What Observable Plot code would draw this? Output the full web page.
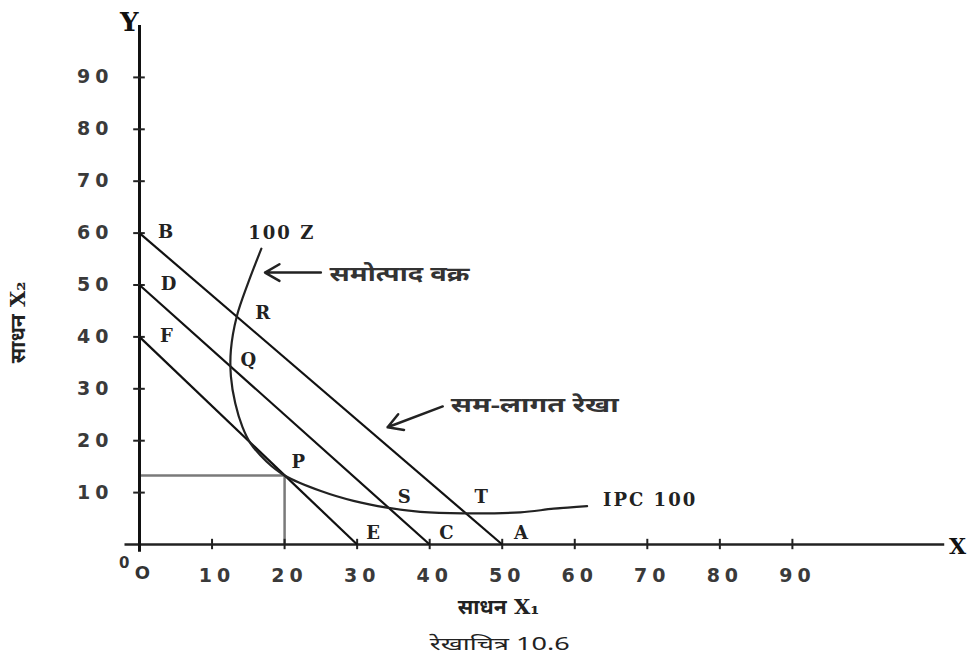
<!DOCTYPE html>
<html>
<head>
<meta charset="utf-8">
<script src="https://cdn.jsdelivr.net/npm/d3@7"></script>
<script src="https://cdn.jsdelivr.net/npm/@observablehq/plot@0.6"></script>
<style>
  html, body { margin: 0; padding: 0; background: #fff; }
  g[font-family="DejaVu Sans"] text { letter-spacing: 5px; }
  g[font-family="DejaVu Serif"] text { letter-spacing: 2px; }
</style>
</head>
<body>
<div id="chart"></div>
<script>
// ---- data ----
const xTicks = [10, 20, 30, 40, 50, 60, 70, 80, 90];
const yTicks = [10, 20, 30, 40, 50, 60, 70, 80, 90];

// iso-cost lines: intercepts on X2 axis and X1 axis
const costLineNames = ["BA", "DC", "FE"];
const costYIntercepts = [60, 50, 40];
const costXIntercepts = [50, 40, 30];

// isoquant (100 Z) continuing as IPC 100
const curveX = [16.8, 15.0, 13.4, 12.6, 12.6, 13.2, 14.2, 15.3, 17.5, 20.0, 25.0, 29.5, 34.1, 38.7, 44.6, 52.5, 57.1, 61.7];
const curveY = [57.0, 50.5, 43.9, 37.5, 32.4, 27.2, 22.6, 19.5, 16.0, 13.3, 10.3, 8.4, 7.1, 6.3, 6.0, 6.2, 6.9, 7.4];

// point P projections
const pX = 20;
const pY = 13.3;

// point labels
const pointNames = ["B", "D", "F", "R", "Q", "P", "S", "T", "E", "C", "A"];
const pointLabelX = [3.6, 4.0, 3.7, 17.0, 15.0, 21.9, 36.5, 47.1, 32.2, 42.3, 52.6];
const pointLabelY = [60.1, 50.1, 40.1, 44.5, 35.5, 15.8, 9.1, 9.1, 2.1, 2.1, 2.1];

// text
const isoquantLabel = "100 Z";
const ipcLabel = "IPC 100";
const isoquantNote = "समोत्पाद वक्र";
const isocostNote = "सम-लागत रेखा";
const xTitle = "साधन X₁";
const yTitle = "साधन X₂";
const caption = "रेखाचित्र 10.6";

// ---- build ----
const costLines = costLineNames.map((n, i) => ({name: n, y0: costYIntercepts[i], x0: costXIntercepts[i]}));
const curve = curveX.map((x, i) => ({x, y: curveY[i]}));
const points = pointNames.map((n, i) => ({n, x: pointLabelX[i], y: pointLabelY[i]}));

const serif = "'DejaVu Serif', serif";
const labelSerif = "DejaVu Serif";
const mixed = "'DejaVu Serif', 'Noto Sans', 'Noto Sans Devanagari', sans-serif";
const deva = "'Noto Sans', 'Noto Sans Devanagari', sans-serif";
const tickFont = "DejaVu Sans";
const originFont = "Verdana, 'DejaVu Sans', sans-serif";

const chart = Plot.plot({
  width: 972,
  height: 661,
  marginLeft: 139,
  marginRight: 6,
  marginTop: 25,
  marginBottom: 117,
  x: {domain: [0, 114], axis: null},
  y: {domain: [0, 100], axis: null},
  style: {background: "#fff", overflow: "visible"},
  marks: [
    // P projections (grey)
    Plot.ruleY([pY], {x1: 0, x2: pX, stroke: "#7a7a7a", strokeWidth: 2.5}),
    Plot.ruleX([pX], {y1: 0, y2: pY, stroke: "#7a7a7a", strokeWidth: 2.5}),
    // axes
    Plot.ruleY([0], {x1: -2, x2: 111.0, stroke: "#222", strokeWidth: 2.5}),
    Plot.ruleX([0], {y1: -1.5, y2: 100, stroke: "#111", strokeWidth: 3}),
    Plot.ruleX(xTicks, {x: d => d, y1: -1, y2: 1, stroke: "#222", strokeWidth: 2}),
    Plot.ruleY(yTicks, {y: d => d, x1: -0.8, x2: 0.8, stroke: "#222", strokeWidth: 2}),
    // tick labels
    Plot.text(xTicks, {x: d => d, y: -6.0, text: d => String(d), fontFamily: tickFont, fontSize: 19, fontWeight: "bold", fill: "#3a3a3a", dx: 5}),
    Plot.text(yTicks, {x: -3.6, y: d => d, text: d => String(d), textAnchor: "end", fontFamily: tickFont, fontSize: 19, fontWeight: "bold", fill: "#3a3a3a"}),
    Plot.text(["0"], {x: -2.1, y: -3.6, text: d => d, fontFamily: originFont, fontSize: 15, fontWeight: "bold", fill: "#333"}),
    Plot.text(["O"], {x: 0.4, y: -5.5, text: d => d, fontFamily: originFont, fontSize: 18, fontWeight: "bold", fill: "#333"}),
    // iso-cost lines
    Plot.link(costLines, {x1: 0, y1: d => d.y0, x2: d => d.x0, y2: 0, stroke: "#111", strokeWidth: 2.2}),
    // isoquant / IPC curve
    Plot.line(curve, {x: "x", y: "y", curve: "catmull-rom", stroke: "#222", strokeWidth: 2.2}),
    // point labels
    Plot.text(points, {x: "x", y: "y", text: "n", fontFamily: serif, fontWeight: "bold", fontSize: 18, fill: "#222"}),
    Plot.text([isoquantLabel], {x: 15.0, y: 59.9, text: d => d, textAnchor: "start", fontFamily: labelSerif, fontWeight: "bold", fontSize: 18, fill: "#222"}),
    Plot.text([ipcLabel], {x: 63.9, y: 8.5, text: d => d, textAnchor: "start", fontFamily: labelSerif, fontWeight: "bold", fontSize: 18, fill: "#222"}),
    // arrows with notes
    Plot.arrow([0], {x1: 25.0, y1: 52.4, x2: 17.3, y2: 52.4, stroke: "#222", strokeWidth: 2.5, headLength: 10}),
    Plot.text([isoquantNote], {x: 26.2, y: 52.0, text: d => d, textAnchor: "start", fontFamily: deva, fontSize: 20, fontWeight: "bold", fill: "#333"}),
    Plot.arrow([0], {x1: 41.8, y1: 26.6, x2: 34.2, y2: 22.6, stroke: "#222", strokeWidth: 2.5, headLength: 10}),
    Plot.text([isocostNote], {x: 42.9, y: 26.8, text: d => d, textAnchor: "start", fontFamily: deva, fontSize: 20, fontWeight: "bold", fill: "#333"}),
    // axis names
    Plot.text(["Y"], {x: -1.4, y: 100.5, text: d => d, fontFamily: serif, fontWeight: "bold", fontSize: 26, fill: "#111"}),
    Plot.text(["X"], {x: 111.6, y: -0.5, text: d => d, textAnchor: "start", fontFamily: serif, fontWeight: "bold", fontSize: 22, fill: "#111"}),
    Plot.text([xTitle], {x: 49.5, y: -12.1, text: d => d, fontFamily: mixed, fontSize: 21, fontWeight: "bold", fill: "#222"}),
    Plot.text([yTitle], {x: -16.7, y: 42.8, text: d => d, rotate: -90, fontFamily: mixed, fontSize: 21, fontWeight: "bold", fill: "#222"}),
    Plot.text([caption], {x: 40.0, y: -19.2, text: d => d, textAnchor: "start", fontFamily: deva, fontSize: 18, fill: "#222"})
  ]
});

// stretch the Devanagari notes to the reference's wide typeface
const stretch = new Map([[isoquantNote, 140], [isocostNote, 168], [caption, 140]]);
d3.select(chart).selectAll("text").each(function () {
  const w = stretch.get(this.textContent);
  if (w) {
    this.setAttribute("textLength", w);
    this.setAttribute("lengthAdjust", "spacingAndGlyphs");
  }
});
document.getElementById("chart").appendChild(chart);
</script>
</body>
</html>
